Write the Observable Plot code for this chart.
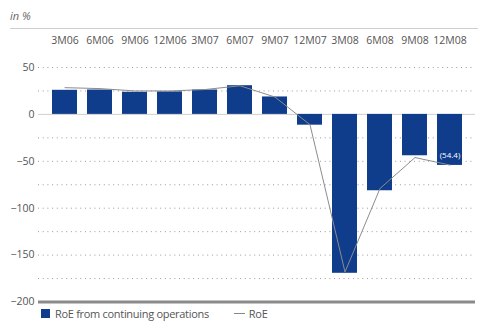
<!DOCTYPE html>
<html>
<head>
<meta charset="utf-8">
<script src="https://cdn.jsdelivr.net/npm/d3@7"></script>
<script src="https://cdn.jsdelivr.net/npm/@observablehq/plot@0.6"></script>
<style>
  body { margin: 0; background: #fff; font-family: "Open Sans", sans-serif; }
  #wrap { position: relative; width: 478px; height: 329px; overflow: hidden; }
  #title { position: absolute; left: 10px; top: 0; width: 468px; height: 29px; border-bottom: 1px solid #cfcfcf;
           font-style: italic; font-size: 11px; color: #666; line-height: 32px; box-sizing: border-box; }
  #chart { position: absolute; left: 0; top: 30px; }
  #legend { position: absolute; left: 41px; top: 305px; font-size: 11px; letter-spacing: -0.3px; color: #555; display: flex; align-items: center; height: 16px; }
  .sw { display: inline-block; width: 9px; height: 9px; background: #0f3d8c; margin-right: 5px; }
  .ln { display: inline-block; width: 11px; height: 1px; background: #888; margin: 0 4px 0 25px; }
</style>
</head>
<body>
<div id="wrap">
  <div id="title">in %</div>
  <div id="chart"></div>
  <div id="legend"><span class="sw"></span><span>RoE from continuing operations</span><span class="ln"></span><span>RoE</span></div>
</div>
<script>
const categories = ["3M06","6M06","9M06","12M06","3M07","6M07","9M07","12M07","3M08","6M08","9M08","12M08"];
const roeContinuing = [25.7, 26, 23.6, 24, 26, 30.6, 18.6, -11.5, -169.4, -81.4, -44.1, -54.4];
const roe = [28.5, 27.5, 25, 25, 26.5, 30.5, 18.5, -11, -168, -79, -46, -54];
const yTicks = [50, 0, -50, -100, -150, -200];
const dottedGrid = [50, 25, -25, -50, -75, -100, -125, -150, -175];
const labelled = [{cat: "12M08", value: -54.4, text: "(54.4)"}];

const data = categories.map((c, i) => ({cat: c, bar: roeContinuing[i], line: roe[i]}));

const chart = Plot.plot({
  width: 478,
  height: 282,
  marginTop: 37,
  marginBottom: 10.5,
  marginLeft: 38,
  marginRight: 3,
  style: {fontFamily: "Open Sans, sans-serif", fontSize: "10.5px", color: "#555", background: "transparent"},
  x: {type: "band", domain: categories, padding: 0.3, label: null},
  y: {domain: [-200, 50], label: null},
  marks: [
    Plot.ruleY(dottedGrid, {stroke: "#999", strokeWidth: 1, strokeDasharray: "1,3.7"}),
    Plot.ruleY([0], {stroke: "#cfcfcf", strokeWidth: 1}),
    Plot.barY(data, {x: "cat", y: "bar", fill: "#0f3d8c"}),
    Plot.line(data, {x: "cat", y: "line", stroke: "#8c8c8c", strokeWidth: 1}),
    Plot.ruleY([-200], {stroke: "#8a8a8a", strokeWidth: 3}),
    Plot.text(labelled, {x: "cat", y: "value", text: "text", fill: "#fff", fontSize: 8, dy: -10}),
    Plot.axisX({anchor: "top", tickSize: 0, tickPadding: 24, fontSize: 10.5, fill: "#555"}),
    Plot.axisY({ticks: yTicks, tickSize: 0, tickPadding: 4, fontSize: 10.5, fill: "#555"})
  ]
});
document.getElementById("chart").appendChild(chart);
</script>
</body>
</html>
